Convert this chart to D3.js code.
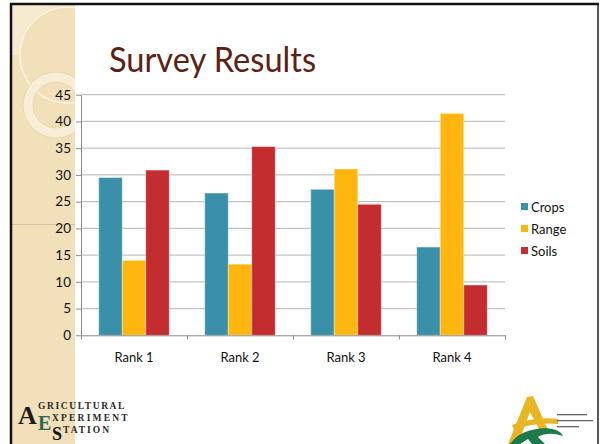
<!DOCTYPE html>
<html>
<head>
<meta charset="utf-8">
<script src="https://cdnjs.cloudflare.com/ajax/libs/d3/7.8.5/d3.min.js"></script>
<style>
  html, body { margin: 0; padding: 0; background: #ffffff; }
  svg { display: block; }
  text { font-family: Lato, "Open Sans", sans-serif; }
</style>
</head>
<body>
<div class="slide"></div>
<script>
// chart data
var categories = ["Rank 1", "Rank 2", "Rank 3", "Rank 4"];
var seriesNames = ["Crops", "Range", "Soils"];
var crops = [29.5, 26.6, 27.3, 16.5];
var range = [14.0, 13.3, 31.1, 41.5];
var soils = [30.9, 35.3, 24.5, 9.4];
var yTicks = [0, 5, 10, 15, 20, 25, 30, 35, 40, 45];

var colors = { Crops: "#3a90a9", Range: "#ffb60f", Soils: "#c42d30" };

function drawSlide() {

  var svgWidth = 600;
  var svgHeight = 444;

  var svg = d3.select(".slide")
    .append("svg")
    .attr("width", svgWidth)
    .attr("height", svgHeight);

  // slide background + beige band on the left
  svg.append("rect")
    .attr("x", 11).attr("y", 4)
    .attr("width", 587).attr("height", 440)
    .attr("fill", "#ffffff");

  var defs = svg.append("defs");
  defs.append("clipPath").attr("id", "bandClip")
    .append("rect")
    .attr("x", 12).attr("y", 5).attr("width", 63).attr("height", 439);

  var band = svg.append("g").attr("clip-path", "url(#bandClip)");
  band.append("rect")
    .attr("x", 12).attr("y", 5).attr("width", 63).attr("height", 439)
    .attr("fill", "#f1e0b9");
  // lighter corner outside the big circle
  band.append("path")
    .attr("d", "M12,5 L75,5 L75,6 A48,48 0 0,0 20,55 L12,55 Z")
    .attr("fill", "#f6ead0");
  band.append("circle")
    .attr("cx", 68).attr("cy", 55).attr("r", 48)
    .attr("fill", "none")
    .attr("stroke", "#fbf4e2")
    .attr("stroke-width", 1.5);
  // the ring
  band.append("circle")
    .attr("cx", 56).attr("cy", 105).attr("r", 28)
    .attr("fill", "none")
    .attr("stroke", "#f8eed8")
    .attr("stroke-width", 10);
  band.append("circle")
    .attr("cx", 56).attr("cy", 105).attr("r", 33)
    .attr("fill", "none")
    .attr("stroke", "#e6d3a6")
    .attr("stroke-width", 0.8);
  band.append("circle")
    .attr("cx", 56).attr("cy", 105).attr("r", 23)
    .attr("fill", "none")
    .attr("stroke", "#e6d3a6")
    .attr("stroke-width", 0.8);
  band.append("line")
    .attr("x1", 12).attr("x2", 75).attr("y1", 224.5).attr("y2", 224.5)
    .attr("stroke", "#d8c397").attr("stroke-width", 1);

  // slide border
  svg.append("line")
    .attr("x1", 10).attr("x2", 599).attr("y1", 4).attr("y2", 4)
    .attr("stroke", "#111").attr("stroke-width", 2.5);
  svg.append("line")
    .attr("x1", 11).attr("x2", 11).attr("y1", 3).attr("y2", 444)
    .attr("stroke", "#111").attr("stroke-width", 2.5);
  svg.append("line")
    .attr("x1", 598).attr("x2", 598).attr("y1", 3).attr("y2", 444)
    .attr("stroke", "#222").attr("stroke-width", 1.5);

  // title
  svg.append("text")
    .attr("x", 109)
    .attr("y", 72)
    .attr("fill", "#5b2113")
    .attr("font-size", "34px")
    .attr("textLength", 207)
    .attr("lengthAdjust", "spacingAndGlyphs")
    .text("Survey Results");

  var margin = { top: 94.7, left: 81, right: 95, bottom: 108.7 };
  var width = svgWidth - margin.left - margin.right;
  var height = svgHeight - margin.top - margin.bottom;

  var chartGroup = svg.append("g")
    .attr("transform", `translate(${margin.left}, ${margin.top})`);

  // scales
  var x0 = d3.scaleBand()
    .domain(categories)
    .range([0, width])
    .paddingInner(0.335)
    .paddingOuter(0.1675);

  var x1 = d3.scaleBand()
    .domain(seriesNames)
    .range([0, x0.bandwidth()]);

  var yScale = d3.scaleLinear()
    .domain([0, 45])
    .range([height, 0]);

  // gridlines
  chartGroup.append("g")
    .selectAll("line")
    .data(yTicks.filter(d => d > 0))
    .enter()
    .append("line")
    .attr("x1", 0).attr("x2", width)
    .attr("y1", d => yScale(d)).attr("y2", d => yScale(d))
    .attr("stroke", "#c3c3c3")
    .attr("stroke-width", 1.3);

  // y axis
  var yAxis = chartGroup.append("g")
    .call(d3.axisLeft(yScale).tickValues(yTicks).tickSize(5).tickPadding(5).tickSizeOuter(0));
  yAxis.select(".domain").attr("stroke", "#8a8a8a");
  yAxis.selectAll(".tick line").attr("stroke", "#8a8a8a");
  yAxis.selectAll(".tick text")
    .attr("font-family", "Lato, sans-serif")
    .attr("font-size", "13.5px")
    .attr("fill", "#111");

  // bars
  var rows = categories.map((c, i) => ({
    cat: c,
    values: [
      { key: "Crops", value: crops[i] },
      { key: "Range", value: range[i] },
      { key: "Soils", value: soils[i] }
    ]
  }));

  chartGroup.append("g")
    .selectAll("g")
    .data(rows)
    .enter()
    .append("g")
    .attr("transform", d => `translate(${x0(d.cat)}, 0)`)
    .selectAll("rect")
    .data(d => d.values)
    .enter()
    .append("rect")
    .attr("x", d => x1(d.key))
    .attr("y", d => yScale(d.value))
    .attr("width", x1.bandwidth())
    .attr("height", d => height - yScale(d.value))
    .attr("fill", d => colors[d.key])
    .attr("stroke", "rgba(255,255,255,0.35)")
    .attr("stroke-width", 1);

  // x axis: ticks sit between the categories
  var edges = d3.scaleLinear().domain([0, categories.length]).range([0, width]);
  var xAxis = chartGroup.append("g")
    .attr("transform", `translate(0, ${height})`)
    .call(d3.axisBottom(edges).ticks(categories.length).tickFormat("").tickSize(4).tickSizeOuter(4));
  xAxis.select(".domain").attr("stroke", "#8a8a8a");
  xAxis.selectAll(".tick line").attr("stroke", "#8a8a8a");

  var xLabels = chartGroup.append("g")
    .attr("transform", `translate(0, ${height})`)
    .call(d3.axisBottom(x0).tickSize(0).tickPadding(17));
  xLabels.select(".domain").remove();
  xLabels.selectAll(".tick text")
    .attr("font-family", "Lato, sans-serif")
    .attr("font-size", "13px")
    .attr("fill", "#111");

  // legend
  var legend = svg.append("g")
    .selectAll("g")
    .data(seriesNames)
    .enter()
    .append("g")
    .attr("transform", (d, i) => `translate(521, ${207 + i * 22})`);
  legend.append("rect")
    .attr("x", 0).attr("y", -4)
    .attr("width", 7).attr("height", 7)
    .attr("fill", d => colors[d]);
  legend.append("text")
    .attr("x", 10)
    .attr("y", 4.5)
    .attr("font-size", "13px")
    .attr("fill", "#111")
    .text(d => d);

  // left logo (agricultural experiment station)
  var logoParts = [
    { t: "A", x: 18, y: 424, size: 26, fill: "#1c1c1c" },
    { t: "GRICULTURAL", x: 38, y: 409, size: 9.5, fill: "#2a2a2a", ls: 1.6 },
    { t: "E", x: 38, y: 430, size: 20, fill: "#2c6a4a" },
    { t: "XPERIMENT", x: 52, y: 421, size: 9.5, fill: "#2a2a2a", ls: 2.2 },
    { t: "S", x: 52, y: 440, size: 18, fill: "#111" },
    { t: "TATION", x: 63, y: 433, size: 9.5, fill: "#2a2a2a", ls: 2 }
  ];
  svg.append("g")
    .selectAll("text")
    .data(logoParts)
    .enter()
    .append("text")
    .attr("x", d => d.x)
    .attr("y", d => d.y)
    .attr("fill", d => d.fill)
    .style("font-family", "'Liberation Serif', 'DejaVu Serif', serif")
    .style("font-weight", "bold")
    .style("font-size", d => d.size + "px")
    .style("letter-spacing", d => (d.ls || 0) + "px")
    .text(d => d.t);

  // right logo (yellow A with green swoosh)
  var logoR = svg.append("g");
  logoR.append("path")
    .attr("d", "M508,444 L527,397 L533,396 L548,430 L541,433 L530,412 L518,444 Z")
    .attr("fill", "#e8b525");
  logoR.append("path")
    .attr("d", "M512,425 Q535,416 558,419 L558,424 Q536,422 514,430 Z")
    .attr("fill", "#e8b525");
  logoR.append("path")
    .attr("d", "M510,444 Q520,429 546,428 Q560,429 563,436 Q548,431 538,437 L545,444 L532,444 L528,439 L520,444 Z")
    .attr("fill", "#1e7a4a");
  logoR.selectAll("rect.line")
    .data([0, 1, 2])
    .enter()
    .append("rect")
    .attr("class", "line")
    .attr("x", 557)
    .attr("y", d => 414 + d * 6)
    .attr("width", (d, i) => [30, 36, 22][i])
    .attr("height", 1.3)
    .attr("fill", "#666");
}

drawSlide();
</script>
</body>
</html>
